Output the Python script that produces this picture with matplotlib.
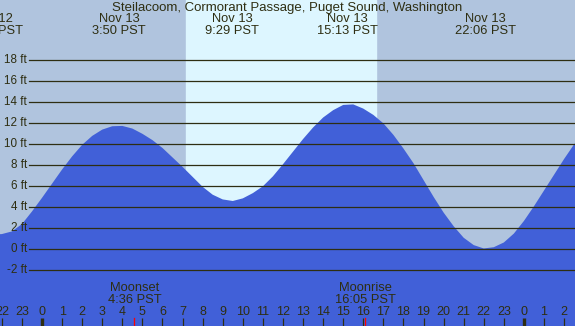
import numpy as np
import matplotlib
matplotlib.use("Agg")
import matplotlib.pyplot as plt
import matplotlib.transforms as mtransforms

# tide heights (ft), read every half hour, hours from midnight Nov 13
tide_hours = np.arange(-2.5, 27.5, 0.5)
tide_ft = [1.40, 1.45, 1.7, 2.4, 3.6,
           4.9, 6.25, 7.6, 8.85, 9.95, 10.8, 11.4, 11.72, 11.75, 11.5,
           11.0, 10.4, 9.65, 8.75, 7.85, 6.9, 5.95, 5.2, 4.75, 4.6,
           4.85, 5.35, 6.0, 6.95, 8.1, 9.3, 10.5, 11.6, 12.55, 13.25,
           13.75, 13.8, 13.4, 12.8, 12.0, 10.9, 9.6, 8.2, 6.6, 5.0,
           3.5, 2.2, 1.1, 0.4, 0.08, 0.2, 0.65, 1.5, 2.7, 4.1,
           5.6, 7.1, 8.6, 10.0, 11.2]

# high / low labels along the top
extreme_hours = [-2.47, 3.833, 9.483, 15.217, 22.1]
extreme_days = ["Nov 12", "Nov 13", "Nov 13", "Nov 13", "Nov 13"]
extreme_times = ["21:32 PST", "3:50 PST", "9:29 PST", "15:13 PST", "22:06 PST"]

sunrise, sunset = 7.17, 16.63
moon_hours = [4.6, 16.083]
moon_names = ["Moonset", "Moonrise"]
moon_times = ["4:36 PST", "16:05 PST"]

ft_ticks = [-2, 0, 2, 4, 6, 8, 10, 12, 14, 16, 18]
hour_ticks = list(range(-2, 27))

night_col = "#B0C4DE"
day_col = "#DDF6FF"
water_col = "#4160D8"
ink = "#2E2E12"
font = "Liberation Sans"

W, H = 575, 326
fig = plt.figure(figsize=(W / 100, H / 100), dpi=100)
ax = fig.add_axes([0, 0, 1, 1])
ax.set_axis_off()

# pixel -> data mapping (0 h at x=42, 20.08 px/h; 0 ft at y=249.3, 10.5 px/ft)
px_h, x0 = 20.08, 42.0
px_ft, y0 = 10.5, 249.3
ax.set_xlim(-x0 / px_h, (W - x0) / px_h)
ax.set_ylim(-(H - y0) / px_ft, y0 / px_ft)
ymin, ymax = ax.get_ylim()

# night / day background
ax.axvspan(-5, 30, color=night_col, zorder=0)
ax.axvspan(sunrise, sunset, color=day_col, zorder=0.5)

# water
ax.fill_between(tide_hours, ymin - 1, tide_ft, color=water_col, lw=0, zorder=1)

# grid lines + ft labels
gx0 = (29 - x0) / px_h
for f in ft_ticks:
    ax.plot([gx0, 30], [f, f], color=ink, lw=0.9, zorder=2)
    ax.text((27 - x0) / px_h, f, "%d ft" % f, ha="right", va="center",
            fontsize=8.4, color=ink, family=font, zorder=3)

trans = mtransforms.blended_transform_factory(ax.transData, ax.transAxes)

def yfrac(py):
    return 1 - py / H

# title
fig.text(0.5, yfrac(8), "Steilacoom, Cormorant Passage, Puget Sound, Washington",
         ha="center", va="center", fontsize=9.5, color=ink, family=font)

# high/low labels
for h, d, t in zip(extreme_hours, extreme_days, extreme_times):
    ax.text(h, yfrac(19), d, transform=trans, ha="center", va="center",
            fontsize=9.3, color=ink, family=font, zorder=3)
    ax.text(h, yfrac(31), t, transform=trans, ha="center", va="center",
            fontsize=9.3, color=ink, family=font, zorder=3)

# moon labels
for h, n, t in zip(moon_hours, moon_names, moon_times):
    ax.text(h, yfrac(288), n, transform=trans, ha="center", va="center",
            fontsize=9.3, color=ink, family=font, zorder=3)
    ax.text(h, yfrac(300), t, transform=trans, ha="center", va="center",
            fontsize=9.3, color=ink, family=font, zorder=3)
    ax.plot([h, h], [0, yfrac(318)], transform=trans, color="red", lw=0.9, zorder=3)

# hour ticks along the bottom
for h in hour_ticks:
    lab = h % 24
    ax.text(h, yfrac(312), str(lab), transform=trans, ha="center", va="center",
            fontsize=9, color=ink, family=font, zorder=3)
    lw = 2.4 if lab == 0 else 0.9
    ax.plot([h, h], [0, yfrac(318)], transform=trans, color=ink, lw=lw,
            solid_capstyle="butt", zorder=2.5)

plt.savefig("out.png", dpi=100)
